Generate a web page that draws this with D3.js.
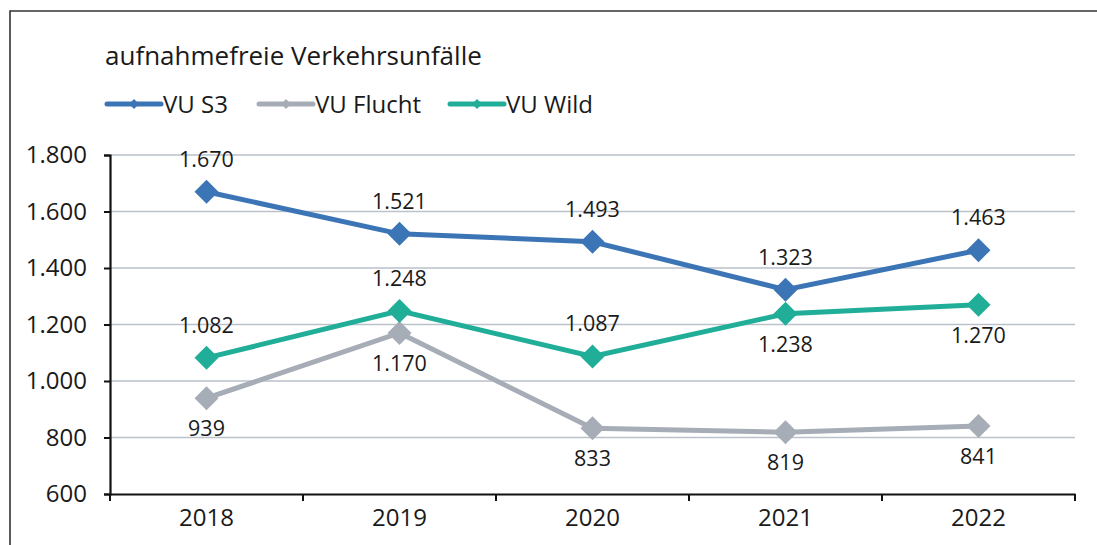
<!DOCTYPE html>
<html>
<head>
<meta charset="utf-8">
<script src="https://d3js.org/d3.v7.min.js"></script>
<style>
  body { margin: 0; background: #fff; }
  svg text { font-family: "Open Sans", sans-serif; fill: #1a1a1a; }
</style>
</head>
<body>
<svg width="1097" height="545"></svg>
<script>
// data
var years = ["2018", "2019", "2020", "2021", "2022"];
var vuS3 = [1670, 1521, 1493, 1323, 1463];
var vuFlucht = [939, 1170, 833, 819, 841];
var vuWild = [1082, 1248, 1087, 1238, 1270];
var seriesNames = ["VU S3", "VU Flucht", "VU Wild"];
var yTicks = [600, 800, 1000, 1200, 1400, 1600, 1800];
// label above (-1) or below (1) each point
var s3Pos = [-1, -1, -1, -1, -1];
var fluchtPos = [1, 1, 1, 1, 1];
var wildPos = [-1, -1, -1, 1, 1];

var colors = ["#3b75b6", "#a6adb6", "#20ae98"];

var svg = d3.select("svg");
var plotL = 110, plotR = 1075, plotT = 155, plotB = 494;

// frame
svg.append("path")
  .attr("d", "M10,545 L10,11 L1097,11")
  .attr("fill", "none")
  .attr("stroke", "#333")
  .attr("stroke-width", 1.6);

svg.append("text")
  .attr("x", 105).attr("y", 65)
  .attr("font-size", "26px")
  .text("aufnahmefreie Verkehrsunfälle");

var x = d3.scaleBand().domain(years).range([plotL, plotR]);
var y = d3.scaleLinear().domain([600, 1800]).range([plotB, plotT]);
var fmt = function(v) { return d3.format(",")(v).replace(/,/g, "."); };

// grid
svg.append("g").selectAll("line")
  .data(yTicks.filter(function(d) { return d > 600; }))
  .enter().append("line")
  .attr("x1", plotL).attr("x2", plotR)
  .attr("y1", function(d) { return y(d); })
  .attr("y2", function(d) { return y(d); })
  .attr("stroke", "#bac1cb")
  .attr("stroke-width", 1.3);

// y axis
var yAxis = svg.append("g")
  .attr("transform", "translate(" + plotL + ",0)")
  .call(d3.axisLeft(y).tickValues(yTicks).tickSize(6).tickPadding(17).tickFormat(fmt));
yAxis.select(".domain").attr("stroke", "#111").attr("stroke-width", 2.2);
yAxis.selectAll(".tick line").attr("stroke", "#111").attr("stroke-width", 2);
yAxis.selectAll("text").attr("font-size", "24px").attr("font-family", "'Open Sans', sans-serif").attr("fill", "#1a1a1a");

// x axis
var xAxis = svg.append("g")
  .attr("transform", "translate(0," + plotB + ")")
  .call(d3.axisBottom(x).tickSize(0).tickPadding(15));
xAxis.select(".domain").attr("stroke", "#111").attr("stroke-width", 2.2);
xAxis.selectAll("text").attr("font-size", "24px").attr("font-family", "'Open Sans', sans-serif").attr("fill", "#1a1a1a");
var edges = years.map(function(d) { return x(d); }).concat([plotR]);
xAxis.selectAll(".edge").data(edges).enter().append("line")
  .attr("x1", function(d) { return d; }).attr("x2", function(d) { return d; })
  .attr("y1", 0).attr("y2", 7)
  .attr("stroke", "#111").attr("stroke-width", 2);

var series = [
  { name: seriesNames[0], values: vuS3, pos: s3Pos, color: colors[0] },
  { name: seriesNames[1], values: vuFlucht, pos: fluchtPos, color: colors[1] },
  { name: seriesNames[2], values: vuWild, pos: wildPos, color: colors[2] }
];

var cx = function(i) { return x(years[i]) + x.bandwidth() / 2; };
var line = d3.line()
  .x(function(d, i) { return cx(i); })
  .y(function(d) { return y(d); });
var diamond = function(px, py, r) {
  return "M" + px + "," + (py - r) + "L" + (px + r) + "," + py + "L" + px + "," + (py + r) + "L" + (px - r) + "," + py + "Z";
};

series.forEach(function(s) {
  var g = svg.append("g");
  g.append("path")
    .attr("d", line(s.values))
    .attr("fill", "none")
    .attr("stroke", s.color)
    .attr("stroke-width", 5);
  g.selectAll("path.m").data(s.values).enter().append("path")
    .attr("class", "m")
    .attr("d", function(d, i) { return diamond(cx(i), y(d), 12); })
    .attr("fill", s.color);
  g.selectAll("text").data(s.values).enter().append("text")
    .attr("x", function(d, i) { return cx(i); })
    .attr("y", function(d, i) { return y(d) + (s.pos[i] < 0 ? -25 : 38); })
    .attr("text-anchor", "middle")
    .attr("font-size", "21.5px")
    .text(function(d) { return fmt(d); });
});

// legend
var legX = [107, 259, 450];
series.forEach(function(s, i) {
  var g = svg.append("g").attr("transform", "translate(" + legX[i] + ",104)");
  g.append("line").attr("x1", 0).attr("x2", 54).attr("y1", 0).attr("y2", 0)
    .attr("stroke", s.color).attr("stroke-width", 5).attr("stroke-linecap", "round");
  g.append("path").attr("d", diamond(27, 0, 5)).attr("fill", s.color);
  g.append("text").attr("x", 56).attr("y", 8.5).attr("font-size", "24px").text(s.name);
});
</script>
</body>
</html>
